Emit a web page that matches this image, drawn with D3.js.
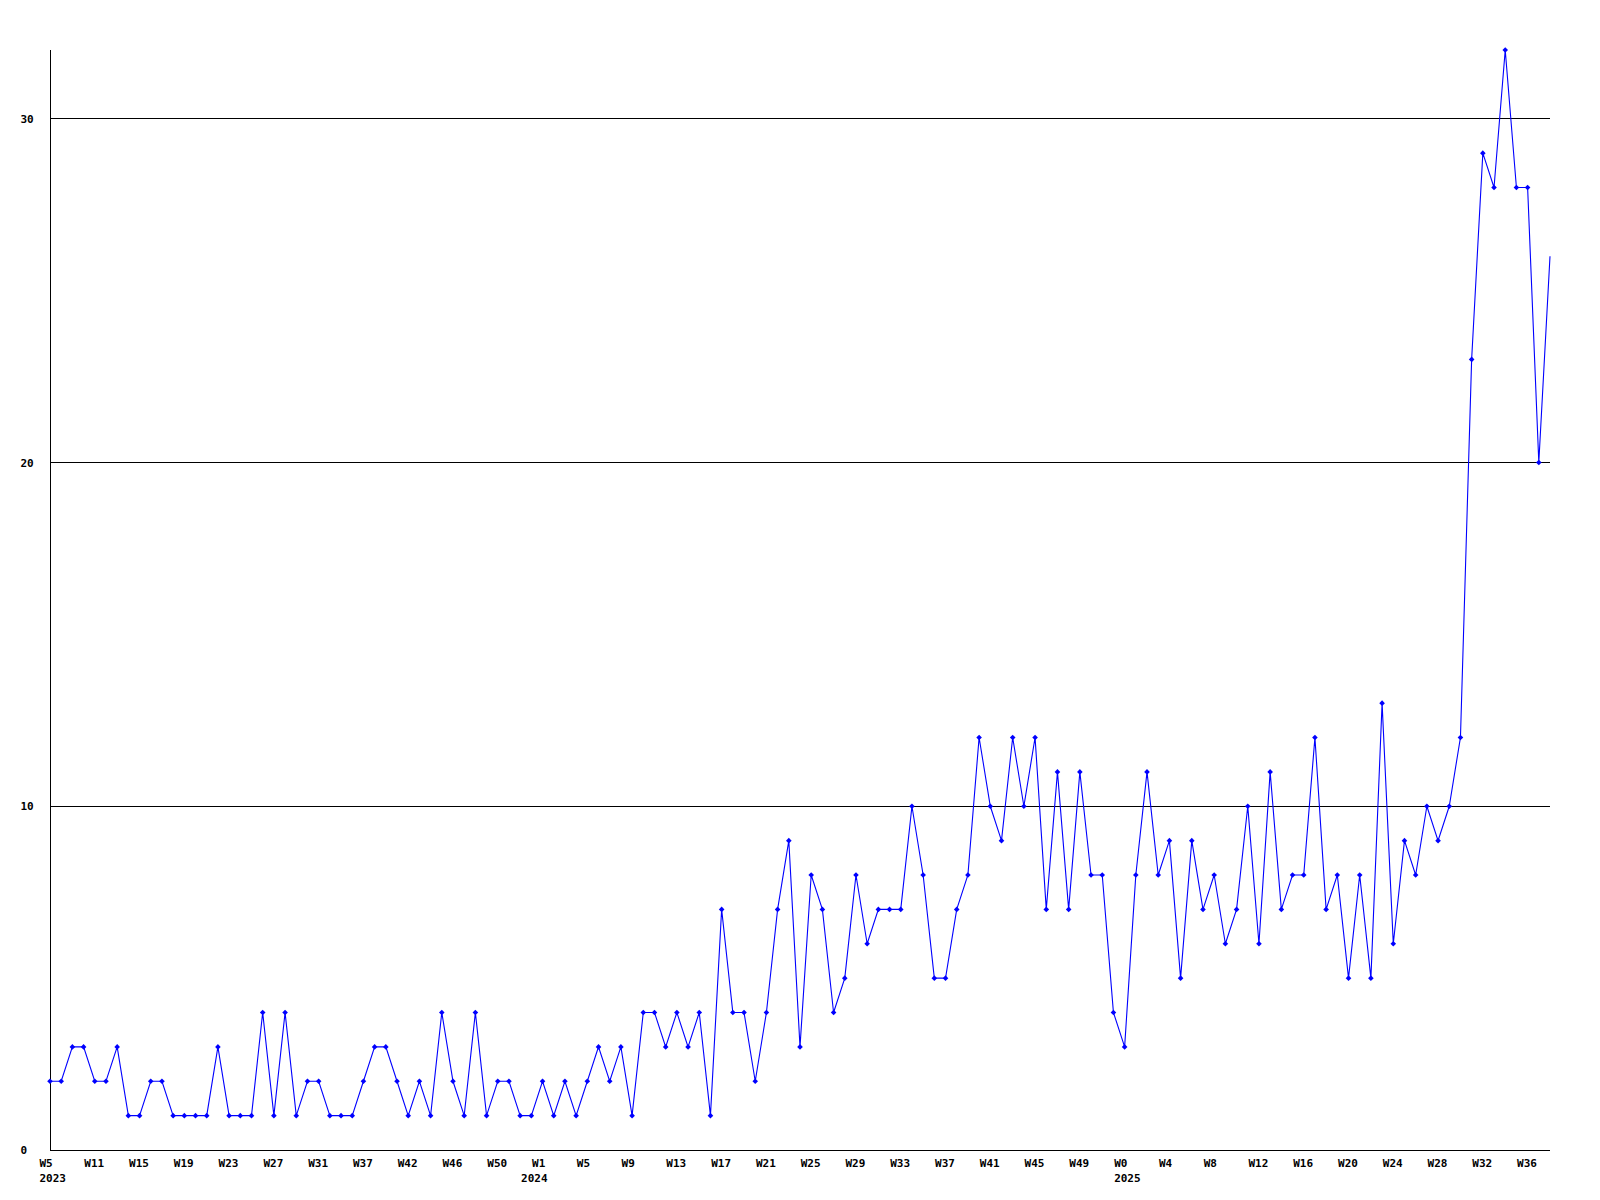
<!DOCTYPE html>
<html>
<head>
<meta charset="utf-8">
<script src="https://cdn.jsdelivr.net/npm/d3@7"></script>
<style>
  html, body { margin: 0; padding: 0; background: #ffffff; }
  svg { display: block; }
  text { font-family: "DejaVu Sans Mono", "Liberation Mono", monospace; font-weight: bold; font-size: 11px; fill: #000; }
</style>
</head>
<body>
<svg id="chart" width="1600" height="1200"></svg>
<script>
// Weekly counts, one per data point (weeks without data are absent)
const values2023 = [2,2,3,3,2,2,3,1,1,2,2,1,1,1,1,3,1,1,1,4,1,4,1,2,2,1,1,1,2,3,3,2,1,2,1,4,2,1,4,1,2,2,1,1];
const values2024 = [2,1,2,1,2,3,2,3,1,4,4,3,4,3,4,1,7,4,4,2,4,7,9,3,8,7,4,5,8,6,7,7,7,10,8,5,5,7,8,12,10,9,12,10,12,7,11,7,11,8,8,4];
const values2025 = [3,8,11,8,9,5,9,7,8,6,7,10,6,11,7,8,8,12,7,8,5,8,5,13,6,9,8,10,9,10,12,23,29,28,32,28,28,20,26];
const values = values2023.concat(values2024, values2025);

// Tick labels, one every 4th data point
const weekLabels = ["W5","W11","W15","W19","W23","W27","W31","W37","W42","W46","W50",
                    "W1","W5","W9","W13","W17","W21","W25","W29","W33","W37","W41","W45","W49",
                    "W0","W4","W8","W12","W16","W20","W24","W28","W32","W36"];
const yearLabels = ["2023","2024","2025"];
const yearTickIndex = [0, 44, 96];
const yTicks = [0, 10, 20, 30];
const gridValues = [10, 20, 30];

(function () {
const svg = d3.select("#chart");
const pLeft = 50, pRight = 1550, pTop = 50, pBottom = 1150;
const yearShift = [-11, -22, -11];   // label offsets (layout only)

const x = d3.scaleLinear().domain([0, values.length - 1]).range([pLeft, pRight]);
const y = d3.scaleLinear().domain([0, 32]).range([pBottom, pTop]);
const fontStyle = sel => sel.style("font-family", '"DejaVu Sans Mono", monospace')
  .style("font-weight", "bold").style("font-size", "11px").attr("fill", "#000");

// gridlines
svg.append("g").selectAll("line").data(gridValues).join("line")
  .attr("x1", pLeft).attr("x2", pRight)
  .attr("y1", d => Math.floor(y(d)) + 0.5).attr("y2", d => Math.floor(y(d)) + 0.5)
  .attr("stroke", "#000").attr("stroke-width", 1).attr("shape-rendering", "crispEdges");

// y axis
const yAxis = d3.axisLeft(y).tickValues(yTicks).tickSize(0).tickPadding(0).tickFormat(d3.format("d"));
const gy = svg.append("g").attr("transform", `translate(${pLeft + 0.5},0)`).call(yAxis);
gy.select(".domain").attr("stroke", "#000").attr("shape-rendering", "crispEdges").attr("d", `M0,${pTop}V${pBottom}`);
gy.selectAll("text").attr("text-anchor", "start").attr("x", -30).attr("dy", "0.33em").call(fontStyle);

// x axis (week labels)
const tickIdx = weekLabels.map((_, i) => i * 4);
const xAxis = d3.axisBottom(x).tickValues(tickIdx).tickSize(0).tickPadding(0)
  .tickFormat((d, i) => weekLabels[i]);
const gx = svg.append("g").attr("transform", `translate(0,${pBottom + 0.5})`).call(xAxis);
gx.select(".domain").attr("stroke", "#000").attr("shape-rendering", "crispEdges").attr("d", `M${pLeft},0H${pRight}`);
gx.selectAll("text").attr("text-anchor", "start").attr("x", -11).attr("y", 16).attr("dy", null).call(fontStyle);

// year labels
const yearAxis = d3.axisBottom(x).tickValues(yearTickIndex).tickSize(0).tickPadding(0)
  .tickFormat((d, i) => yearLabels[i]);
const gyr = svg.append("g").attr("transform", `translate(0,${pBottom + 0.5})`).call(yearAxis);
gyr.select(".domain").remove();
gyr.selectAll("text").attr("text-anchor", "start").attr("x", (d, i) => yearShift[i]).attr("y", 31).attr("dy", null).call(fontStyle);

// series line
const line = d3.line().x((d, i) => x(i)).y(d => y(d));
svg.append("path").datum(values)
  .attr("d", line).attr("fill", "none").attr("stroke", "#0000ff").attr("stroke-width", 1.1);

// markers (last, partial week has none)
svg.append("g").selectAll("path").data(values.slice(0, values.length - 1)).join("path")
  .attr("transform", (d, i) => `translate(${x(i)},${y(d)})`)
  .attr("d", "M-2.8,0L0,-2.8L2.8,0L0,2.8Z")
  .attr("fill", "#0000ff");
})();
</script>
</body>
</html>
